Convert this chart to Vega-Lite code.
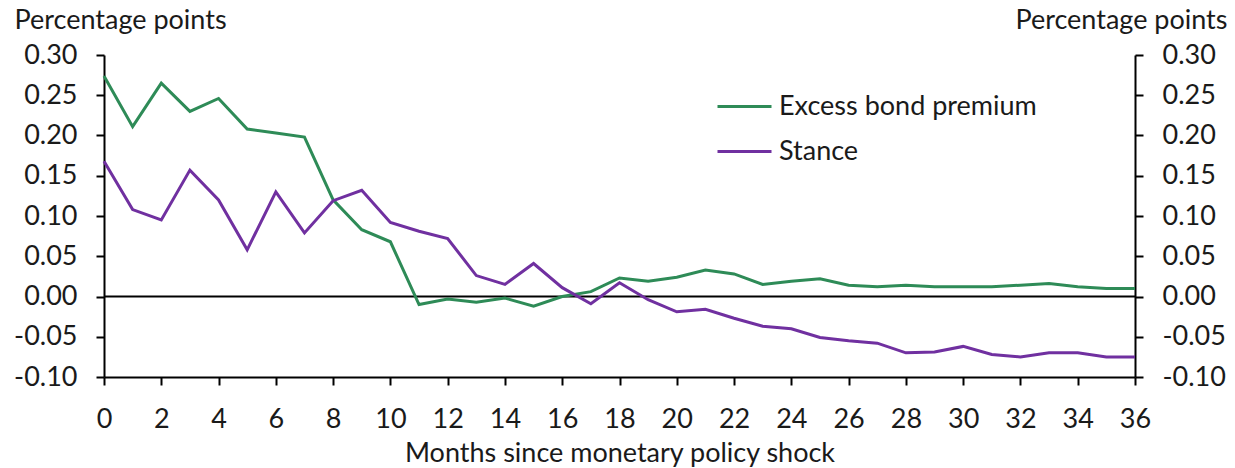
{
  "$schema": "https://vega.github.io/schema/vega-lite/v6.json",
  "width": 1031,
  "height": 322,
  "autosize": "none",
  "padding": {"left": 104, "top": 55, "right": 100, "bottom": 91},
  "background": "white",
  "config": {
    "view": {"stroke": null},
    "font": "Lato",
    "axis": {
      "domainColor": "#000000", "domainWidth": 2, "tickColor": "#000000", "tickWidth": 2, "tickSize": 8,
      "labelFont": "Lato", "labelFontSize": 27, "labelColor": "#1a1a1a",
      "titleFont": "Lato", "titleFontSize": 27, "titleFontWeight": "normal", "titleColor": "#1a1a1a",
      "grid": false
    }
  },
  "datasets": {
    "series": [
      {"month": 0, "series": "Excess bond premium", "value": 0.274},
      {"month": 1, "series": "Excess bond premium", "value": 0.211},
      {"month": 2, "series": "Excess bond premium", "value": 0.265},
      {"month": 3, "series": "Excess bond premium", "value": 0.230},
      {"month": 4, "series": "Excess bond premium", "value": 0.246},
      {"month": 5, "series": "Excess bond premium", "value": 0.208},
      {"month": 6, "series": "Excess bond premium", "value": 0.203},
      {"month": 7, "series": "Excess bond premium", "value": 0.198},
      {"month": 8, "series": "Excess bond premium", "value": 0.120},
      {"month": 9, "series": "Excess bond premium", "value": 0.083},
      {"month": 10, "series": "Excess bond premium", "value": 0.068},
      {"month": 11, "series": "Excess bond premium", "value": -0.010},
      {"month": 12, "series": "Excess bond premium", "value": -0.003},
      {"month": 13, "series": "Excess bond premium", "value": -0.007},
      {"month": 14, "series": "Excess bond premium", "value": -0.002},
      {"month": 15, "series": "Excess bond premium", "value": -0.012},
      {"month": 16, "series": "Excess bond premium", "value": 0.000},
      {"month": 17, "series": "Excess bond premium", "value": 0.006},
      {"month": 18, "series": "Excess bond premium", "value": 0.023},
      {"month": 19, "series": "Excess bond premium", "value": 0.019},
      {"month": 20, "series": "Excess bond premium", "value": 0.024},
      {"month": 21, "series": "Excess bond premium", "value": 0.033},
      {"month": 22, "series": "Excess bond premium", "value": 0.028},
      {"month": 23, "series": "Excess bond premium", "value": 0.015},
      {"month": 24, "series": "Excess bond premium", "value": 0.019},
      {"month": 25, "series": "Excess bond premium", "value": 0.022},
      {"month": 26, "series": "Excess bond premium", "value": 0.014},
      {"month": 27, "series": "Excess bond premium", "value": 0.012},
      {"month": 28, "series": "Excess bond premium", "value": 0.014},
      {"month": 29, "series": "Excess bond premium", "value": 0.012},
      {"month": 30, "series": "Excess bond premium", "value": 0.012},
      {"month": 31, "series": "Excess bond premium", "value": 0.012},
      {"month": 32, "series": "Excess bond premium", "value": 0.014},
      {"month": 33, "series": "Excess bond premium", "value": 0.016},
      {"month": 34, "series": "Excess bond premium", "value": 0.012},
      {"month": 35, "series": "Excess bond premium", "value": 0.010},
      {"month": 36, "series": "Excess bond premium", "value": 0.010},
      {"month": 0, "series": "Stance", "value": 0.168},
      {"month": 1, "series": "Stance", "value": 0.108},
      {"month": 2, "series": "Stance", "value": 0.095},
      {"month": 3, "series": "Stance", "value": 0.157},
      {"month": 4, "series": "Stance", "value": 0.120},
      {"month": 5, "series": "Stance", "value": 0.058},
      {"month": 6, "series": "Stance", "value": 0.130},
      {"month": 7, "series": "Stance", "value": 0.079},
      {"month": 8, "series": "Stance", "value": 0.119},
      {"month": 9, "series": "Stance", "value": 0.132},
      {"month": 10, "series": "Stance", "value": 0.092},
      {"month": 11, "series": "Stance", "value": 0.081},
      {"month": 12, "series": "Stance", "value": 0.072},
      {"month": 13, "series": "Stance", "value": 0.026},
      {"month": 14, "series": "Stance", "value": 0.015},
      {"month": 15, "series": "Stance", "value": 0.041},
      {"month": 16, "series": "Stance", "value": 0.011},
      {"month": 17, "series": "Stance", "value": -0.009},
      {"month": 18, "series": "Stance", "value": 0.017},
      {"month": 19, "series": "Stance", "value": -0.004},
      {"month": 20, "series": "Stance", "value": -0.019},
      {"month": 21, "series": "Stance", "value": -0.016},
      {"month": 22, "series": "Stance", "value": -0.027},
      {"month": 23, "series": "Stance", "value": -0.037},
      {"month": 24, "series": "Stance", "value": -0.040},
      {"month": 25, "series": "Stance", "value": -0.051},
      {"month": 26, "series": "Stance", "value": -0.055},
      {"month": 27, "series": "Stance", "value": -0.058},
      {"month": 28, "series": "Stance", "value": -0.070},
      {"month": 29, "series": "Stance", "value": -0.069},
      {"month": 30, "series": "Stance", "value": -0.062},
      {"month": 31, "series": "Stance", "value": -0.072},
      {"month": 32, "series": "Stance", "value": -0.075},
      {"month": 33, "series": "Stance", "value": -0.070},
      {"month": 34, "series": "Stance", "value": -0.070},
      {"month": 35, "series": "Stance", "value": -0.075},
      {"month": 36, "series": "Stance", "value": -0.075}
    ],
    "zero": [{"level": 0}]
  },
  "resolve": {"axis": {"y": "independent"}},
  "layer": [
    {
      "data": {"name": "zero"},
      "mark": {"type": "rule", "color": "#000000", "strokeWidth": 2},
      "encoding": {
        "y": {
          "field": "level", "type": "quantitative",
          "scale": {"domain": [-0.1, 0.3], "nice": false, "zero": false},
          "axis": {
            "orient": "right", "title": "Percentage points", "values": [-0.1, -0.05, 0, 0.05, 0.1, 0.15, 0.2, 0.25, 0.3],
            "labelExpr": "replace(format(datum.value, '.2f'), '\u2212', '-')",
            "labelPadding": 19, "labelAlign": "left",
            "titleAngle": 0, "titleAlign": "right", "titleBaseline": "alphabetic", "titleX": 92, "titleY": -27
          }
        }
      }
    },
    {
      "data": {"name": "series"},
      "mark": {"type": "line", "strokeWidth": 3, "strokeJoin": "miter", "interpolate": "linear"},
      "encoding": {
        "x": {
          "field": "month", "type": "quantitative",
          "scale": {"domain": [0, 36], "nice": false},
          "axis": {
            "title": "Months since monetary policy shock", "values": [0, 2, 4, 6, 8, 10, 12, 14, 16, 18, 20, 22, 24, 26, 28, 30, 32, 34, 36],
            "labelPadding": 21, "labelFlush": false, "titleBaseline": "alphabetic", "titleY": 84
          }
        },
        "y": {
          "field": "value", "type": "quantitative",
          "scale": {"domain": [-0.1, 0.3], "nice": false, "zero": false},
          "axis": {
            "orient": "left", "title": "Percentage points", "values": [-0.1, -0.05, 0, 0.05, 0.1, 0.15, 0.2, 0.25, 0.3],
            "labelExpr": "replace(format(datum.value, '.2f'), '\u2212', '-')",
            "labelPadding": 19,
            "titleAngle": 0, "titleAlign": "left", "titleBaseline": "alphabetic", "titleX": -90, "titleY": -27
          }
        },
        "color": {
          "field": "series", "type": "nominal",
          "scale": {"domain": ["Excess bond premium", "Stance"], "range": ["#2E8B57", "#7030A0"]},
          "legend": {
            "title": null, "orient": "none", "legendX": 612, "legendY": 29, "padding": 0,
            "symbolType": "stroke", "symbolSize": 2916, "symbolStrokeWidth": 3,
            "labelFont": "Lato", "labelFontSize": 27, "labelColor": "#1a1a1a", "labelOffset": 6,
            "rowPadding": 0, "clipHeight": 45, "labelLimit": 400
          }
        }
      }
    }
  ]
}
